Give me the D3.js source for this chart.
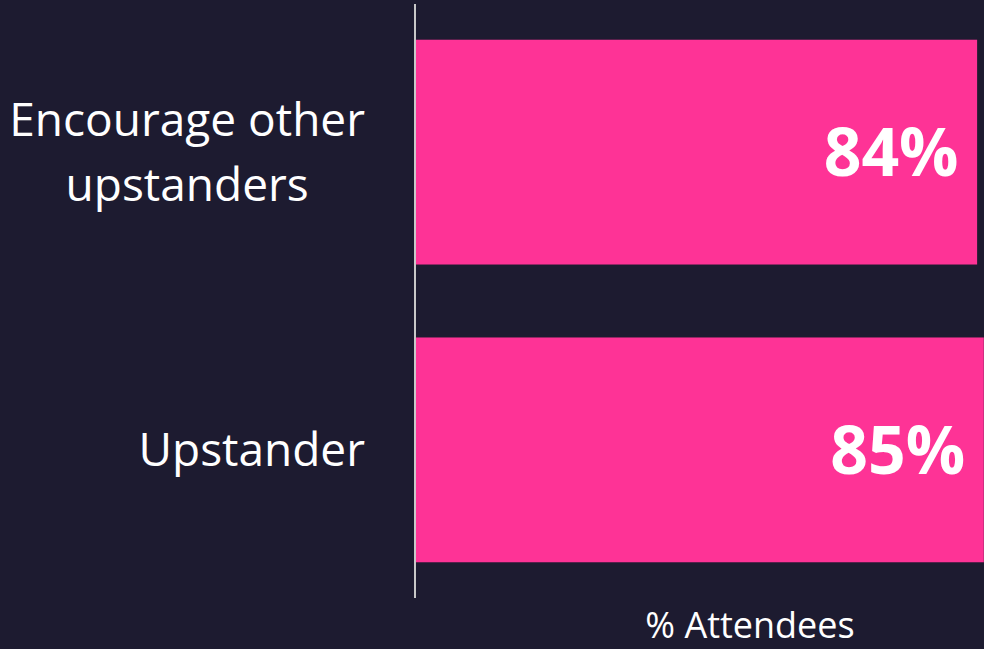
<!DOCTYPE html>
<html lang="en">
<head>
    <meta charset="UTF-8">
    <title>Upstanders</title>
    <style>
        body { margin: 0; background: #1d1b30; overflow: hidden; }
        text { font-family: "Open Sans", Lato, sans-serif; }
    </style>
</head>
<body>
    <script src="https://d3js.org/d3.v7.min.js"></script>
    <script>
        const width = 984,
              height = 649;

        // data
        const categories = ["Encourage other\nupstanders", "Upstander"];
        const values = [84, 85];
        const axisTitle = "% Attendees";

        const pink = "#fe3396";

        var svg = d3.select('body')
                    .append('svg')
                    .attr('width', width)
                    .attr('height', height);

        svg.append("rect")
            .attr("width", width)
            .attr("height", height)
            .attr("fill", "#1d1b30");

        // plot area runs off the right edge of the picture
        var x = d3.scaleLinear().domain([0, 100]).range([416, 1084]);
        var y = d3.scaleBand()
            .domain(categories)
            .range([4, 598])
            .paddingInner(0.245)
            .paddingOuter(0.12);

        // bars
        svg.selectAll("rect.bar")
            .data(values)
            .enter()
            .append("rect")
            .attr("class", "bar")
            .attr("x", x(0))
            .attr("y", (d, i) => y(categories[i]))
            .attr("width", d => x(d) - x(0))
            .attr("height", y.bandwidth())
            .attr("fill", pink);

        // vertical axis line
        svg.append("line")
            .attr("x1", x(0) - 1).attr("x2", x(0) - 1)
            .attr("y1", y.range()[0]).attr("y2", y.range()[1])
            .style("stroke", "#c8c8c8")
            .style("stroke-width", 2);

        // value labels
        svg.selectAll("text.val")
            .data(values)
            .enter()
            .append("text")
            .attr("class", "val")
            .attr("x", d => x(d) - 86)
            .attr("y", (d, i) => y(categories[i]) + y.bandwidth() / 2)
            .attr("dy", "0.36em")
            .attr("text-anchor", "middle")
            .attr("font-size", "66px")
            .attr("font-weight", "bold")
            .attr("fill", "#fff")
            .text(d => d + "%");

        // category labels, lines centred in a right-aligned block
        const labelRight = 365,
              fs = 46,
              lineH = 65;
        categories.forEach(function(c) {
            var lines = c.split("\n");
            var g = svg.append("text")
                .attr("font-size", fs + "px")
                .attr("fill", "#fff")
                .attr("text-anchor", "middle");
            var cy = y(c) + y.bandwidth() / 2;
            var first = cy - (lines.length - 1) * lineH / 2;
            var spans = lines.map(function(l, i) {
                return g.append("tspan")
                    .attr("y", first + i * lineH)
                    .attr("dy", "0.36em")
                    .text(l);
            });
            var w = d3.max(spans, s => s.node().getComputedTextLength());
            spans.forEach(s => s.attr("x", labelRight - w / 2));
        });

        // axis title
        svg.append("text")
            .attr("x", (x.range()[0] + x.range()[1]) / 2)
            .attr("y", 638)
            .attr("text-anchor", "middle")
            .attr("font-size", "36px")
            .attr("fill", "#fff")
            .text(axisTitle);
    </script>
</body>
</html>
